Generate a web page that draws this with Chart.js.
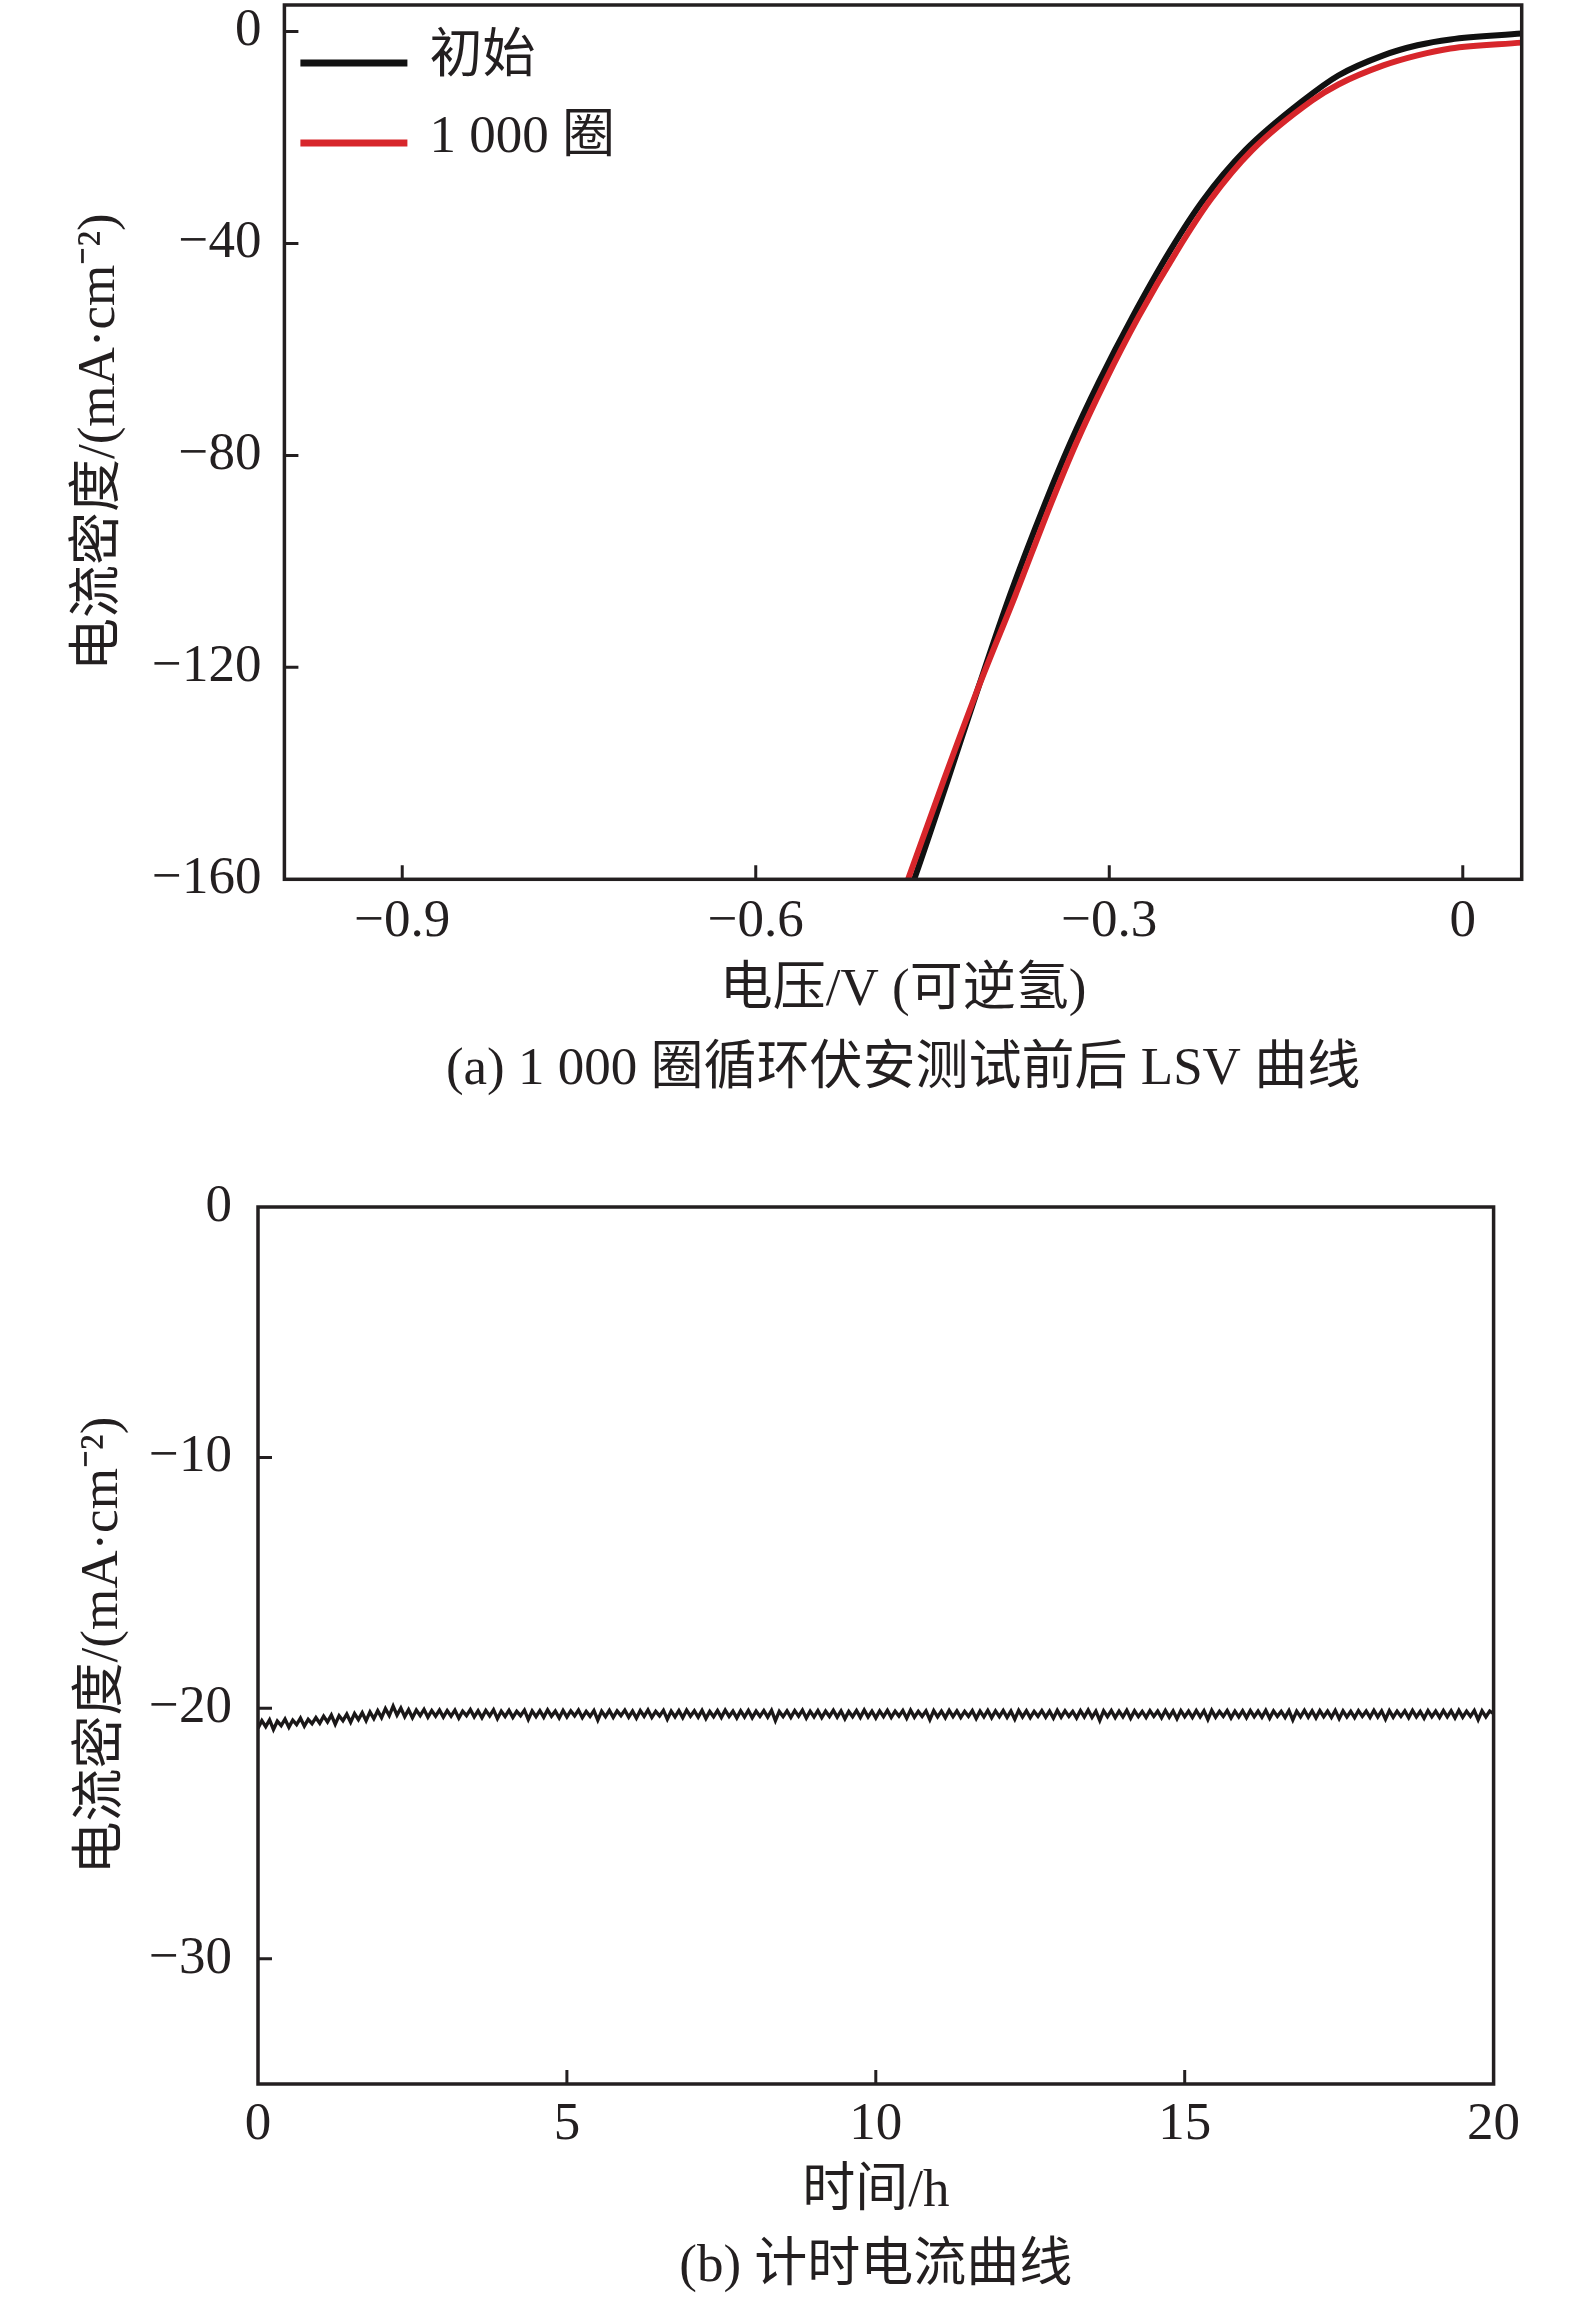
<!DOCTYPE html>
<html lang="zh">
<head>
<meta charset="UTF-8" />
<title>LSV 与计时电流曲线</title>
<script src="https://cdn.jsdelivr.net/npm/chart.js"></script>
<style>
  body { margin: 0; background: #fff; }
  .panel { position: relative; width: 1575px; }
  #panelA { height: 1125px; }
  #panelB { height: 1180px; }
</style>
</head>
<body>
<div class="panel" id="panelA"><canvas id="lsvChart"></canvas></div>
<div class="panel" id="panelB"><canvas id="itChart"></canvas></div>
<script>
// (a) LSV before / after 1000 cycles
const lsvLabels = ['初始', '1 000 圈'];
const lsvInitialV = [-0.468, -0.4646, -0.4371, -0.4111, -0.3843, -0.3542, -0.3330, -0.3092, -0.2804, -0.2482, -0.2202, -0.1845, -0.1353, -0.1056, -0.0674, -0.0385, -0.0105, 0.05];
const lsvInitialJ = [-161.5, -159.4, -141.3, -123.8, -106.4, -88.9, -77.6, -66.3, -53.9, -41.3, -31.8, -22.4, -13.0, -8.3, -4.5, -2.6, -1.5, -0.4];
const lsvCycledV = [-0.4732, -0.4698, -0.4405, -0.4111, -0.3797, -0.3491, -0.3279, -0.3041, -0.2753, -0.2423, -0.2143, -0.1787, -0.1277, -0.1056, -0.0674, -0.0385, -0.0105, 0.05];
const lsvCycledJ = [-161.6, -159.4, -141.3, -123.8, -106.4, -88.9, -77.6, -66.3, -53.9, -41.3, -31.8, -22.4, -13.0, -10.0, -6.4, -4.5, -3.2, -2.1];
const lsvXTicks = [-0.9, -0.6, -0.3, 0];
const lsvYTicks = [0, -40, -80, -120, -160];

// (b) chronoamperometry, one reading every 0.0625 h (16 per row = 1 h)
const itStepHours = 0.0625;
const itCurrent = [
  -20.80, -20.50, -20.74, -20.47, -20.85, -20.52, -20.70, -20.44, -20.76, -20.48, -20.66, -20.40, -20.72, -20.45, -20.62, -20.38,
  -20.60, -20.32, -20.55, -20.28, -20.64, -20.30, -20.50, -20.24, -20.56, -20.22, -20.46, -20.18, -20.50, -20.15, -20.42, -20.10,
  -20.38, -20.02, -20.30, -19.92, -20.28, -20.00, -20.34, -20.06, -20.38, -20.08, -20.30, -20.05, -20.36, -20.10, -20.32, -20.08,
  -20.36, -20.10, -20.32, -20.08, -20.40, -20.12, -20.30, -20.06, -20.35, -20.11, -20.38, -20.09, -20.31, -20.07, -20.42, -20.12,
  -20.33, -20.09, -20.37, -20.13, -20.30, -20.08, -20.45, -20.11, -20.34, -20.10, -20.36, -20.07, -20.32, -20.12, -20.39, -20.09,
  -20.35, -20.11, -20.31, -20.08, -20.38, -20.13, -20.33, -20.10, -20.48, -20.12, -20.34, -20.09, -20.37, -20.11, -20.30, -20.08,
  -20.36, -20.12, -20.40, -20.10, -20.33, -20.07, -20.37, -20.13, -20.31, -20.09, -20.44, -20.12, -20.35, -20.10, -20.38, -20.08,
  -20.32, -20.11, -20.36, -20.09, -20.41, -20.13, -20.34, -20.10, -20.37, -20.08, -20.33, -20.12, -20.39, -20.11, -20.35, -20.09,
  -20.38, -20.12, -20.33, -20.10, -20.36, -20.09, -20.50, -20.13, -20.34, -20.11, -20.37, -20.10, -20.32, -20.08, -20.40, -20.12,
  -20.35, -20.10, -20.38, -20.12, -20.33, -20.09, -20.36, -20.11, -20.42, -20.13, -20.34, -20.10, -20.37, -20.08, -20.35, -20.12,
  -20.39, -20.11, -20.34, -20.09, -20.37, -20.12, -20.32, -20.10, -20.40, -20.08, -20.36, -20.13, -20.33, -20.11, -20.46, -20.10,
  -20.35, -20.12, -20.38, -20.09, -20.34, -20.11, -20.37, -20.13, -20.33, -20.10, -20.41, -20.12, -20.35, -20.09, -20.38, -20.11,
  -20.34, -20.10, -20.37, -20.12, -20.44, -20.09, -20.35, -20.11, -20.38, -20.13, -20.33, -20.10, -20.36, -20.12, -20.40, -20.09,
  -20.36, -20.11, -20.33, -20.13, -20.39, -20.10, -20.35, -20.08, -20.37, -20.12, -20.49, -20.11, -20.34, -20.10, -20.38, -20.12,
  -20.35, -20.09, -20.40, -20.11, -20.34, -20.13, -20.37, -20.10, -20.33, -20.12, -20.38, -20.09, -20.36, -20.11, -20.42, -20.10,
  -20.34, -20.12, -20.37, -20.10, -20.35, -20.11, -20.45, -20.09, -20.36, -20.13, -20.33, -20.10, -20.39, -20.12, -20.35, -20.11,
  -20.38, -20.10, -20.34, -20.12, -20.36, -20.09, -20.40, -20.11, -20.33, -20.13, -20.37, -20.10, -20.47, -20.12, -20.35, -20.09,
  -20.36, -20.11, -20.39, -20.10, -20.34, -20.12, -20.37, -20.09, -20.42, -20.11, -20.35, -20.13, -20.38, -20.10, -20.33, -20.12,
  -20.37, -20.09, -20.35, -20.11, -20.44, -20.10, -20.36, -20.12, -20.33, -20.11, -20.38, -20.09, -20.35, -20.13, -20.40, -20.10,
  -20.34, -20.12, -20.37, -20.10, -20.35, -20.11, -20.39, -20.09, -20.36, -20.12, -20.33, -20.10, -20.46, -20.11, -20.35, -20.12,
  -20.22
];
const itXTicks = [0, 5, 10, 15, 20];
const itYTicks = [0, -10, -20, -30];

const FONT = "'Liberation Serif', 'Times New Roman', 'Noto Sans CJK SC', serif";
const INK = '#231f20';
const yTitle = '电流密度/(mA·cm⁻²)';

function fmt(v) {
  return v < 0 ? '\u2212' + Math.abs(v) : String(v);
}

// box frame + inward tick marks
const frameTicks = {
  id: 'frameTicks',
  afterDraw(chart) {
    const { ctx, chartArea: a, scales } = chart;
    ctx.save();
    ctx.strokeStyle = INK;
    ctx.lineWidth = 3.5;
    ctx.strokeRect(a.left, a.top, a.right - a.left, a.bottom - a.top);
    ctx.lineWidth = 3;
    ctx.beginPath();
    scales.x.ticks.forEach(t => {
      const px = scales.x.getPixelForValue(t.value);
      if (px - a.left < 3 || a.right - px < 3) return;
      ctx.moveTo(px, a.bottom);
      ctx.lineTo(px, a.bottom - 14);
    });
    scales.y.ticks.forEach(t => {
      const py = scales.y.getPixelForValue(t.value);
      if (py - a.top < 3 || a.bottom - py < 3) return;
      ctx.moveTo(a.left, py);
      ctx.lineTo(a.left + 14, py);
    });
    ctx.stroke();
    ctx.restore();
  }
};

// legend drawn as line samples in the top-left corner of the plot
const lineLegend = {
  id: 'lineLegend',
  afterDraw(chart) {
    const { ctx, chartArea: a } = chart;
    ctx.save();
    ctx.font = '53px ' + FONT;
    ctx.textBaseline = 'middle';
    chart.data.datasets.forEach((ds, i) => {
      const y = a.top + 58 + i * 80;
      ctx.strokeStyle = ds.borderColor;
      ctx.lineWidth = 7;
      ctx.beginPath();
      ctx.moveTo(a.left + 16, y);
      ctx.lineTo(a.left + 123, y);
      ctx.stroke();
      ctx.fillStyle = INK;
      ctx.fillText(ds.label, a.left + 145, y - 5);
    });
    ctx.restore();
  }
};

function axisFont(lh) {
  return { family: FONT, size: 53, lineHeight: lh || 1.2 };
}

// x title and panel caption share the x-axis title block so both centre on the plot
function makeOptions(cfg) {
  return {
    animation: false,
    responsive: true,
    maintainAspectRatio: false,
    devicePixelRatio: 1,
    layout: { padding: { left: 0, right: cfg.padRight, top: cfg.padTop, bottom: 0 } },
    plugins: {
      legend: { display: false },
      tooltip: { enabled: false },
      title: { display: false }
    },
    scales: {
      x: {
        type: 'linear',
        min: cfg.xMin,
        max: cfg.xMax,
        grid: { display: false, drawTicks: false },
        border: { display: false },
        afterBuildTicks: s => { s.ticks = cfg.xTicks.map(v => ({ value: v })); },
        afterFit: s => { s.height = cfg.xBoxHeight; s.paddingLeft = 0; s.paddingRight = 0; },
        ticks: { color: INK, font: axisFont(), padding: cfg.xTickPad, maxRotation: 0, autoSkip: false, callback: fmt },
        title: {
          display: true,
          text: [cfg.xTitle, cfg.caption],
          color: INK,
          font: axisFont(cfg.titleLineHeight),
          padding: { top: 0, bottom: cfg.captionPad }
        }
      },
      y: {
        type: 'linear',
        min: cfg.yMin,
        max: cfg.yMax,
        grid: { display: false, drawTicks: false },
        border: { display: false },
        afterBuildTicks: s => { s.ticks = cfg.yTicks.map(v => ({ value: v })); },
        afterFit: s => { s.width = cfg.yBoxWidth; s.paddingTop = 0; s.paddingBottom = 0; },
        ticks: { color: INK, font: axisFont(), padding: cfg.yTickPad, autoSkip: false, callback: fmt },
        title: { display: true, text: yTitle, color: INK, font: axisFont(), padding: { top: cfg.yTitlePad, bottom: 0 } }
      }
    }
  };
}

new Chart(document.getElementById('lsvChart'), {
  type: 'scatter',
  data: {
    datasets: [
      {
        label: lsvLabels[0],
        data: lsvInitialV.map((v, i) => ({ x: v, y: lsvInitialJ[i] })),
        borderColor: '#111111',
        backgroundColor: '#111111',
        borderWidth: 6,
        showLine: true,
        pointRadius: 0,
        cubicInterpolationMode: 'monotone',
        order: 1
      },
      {
        label: lsvLabels[1],
        data: lsvCycledV.map((v, i) => ({ x: v, y: lsvCycledJ[i] })),
        borderColor: '#d7262b',
        backgroundColor: '#d7262b',
        borderWidth: 6,
        showLine: true,
        pointRadius: 0,
        cubicInterpolationMode: 'monotone',
        order: 0
      }
    ]
  },
  options: makeOptions({
    caption: '(a) 1 000 圈循环伏安测试前后 LSV 曲线',
    padRight: 53.3,
    padTop: 5,
    xMin: -1.0, xMax: 0.05, xTicks: lsvXTicks,
    yMin: -160, yMax: 5, yTicks: lsvYTicks,
    xBoxHeight: 245.7, xTickPad: 11, xTitle: '电压/V (可逆氢)',
    titleLineHeight: 1.5, captionPad: 15,
    yBoxWidth: 284.4, yTickPad: 23, yTitlePad: 68
  }),
  plugins: [frameTicks, lineLegend]
});

new Chart(document.getElementById('itChart'), {
  type: 'scatter',
  data: {
    datasets: [{
      label: '计时电流',
      data: itCurrent.map((v, i) => ({ x: i * itStepHours, y: v })),
      borderColor: '#1a1718',
      borderWidth: 3.4,
      showLine: true,
      pointRadius: 0,
      tension: 0
    }]
  },
  options: makeOptions({
    caption: '(b) 计时电流曲线',
    padRight: 81.4,
    padTop: 82,
    xMin: 0, xMax: 20, xTicks: itXTicks,
    yMin: -35, yMax: 0, yTicks: itYTicks,
    xBoxHeight: 221, xTickPad: 9, xTitle: '时间/h',
    titleLineHeight: 1.415, captionPad: 0.5,
    yBoxWidth: 258, yTickPad: 26, yTitlePad: 71
  }),
  plugins: [frameTicks]
});
</script>
</body>
</html>
